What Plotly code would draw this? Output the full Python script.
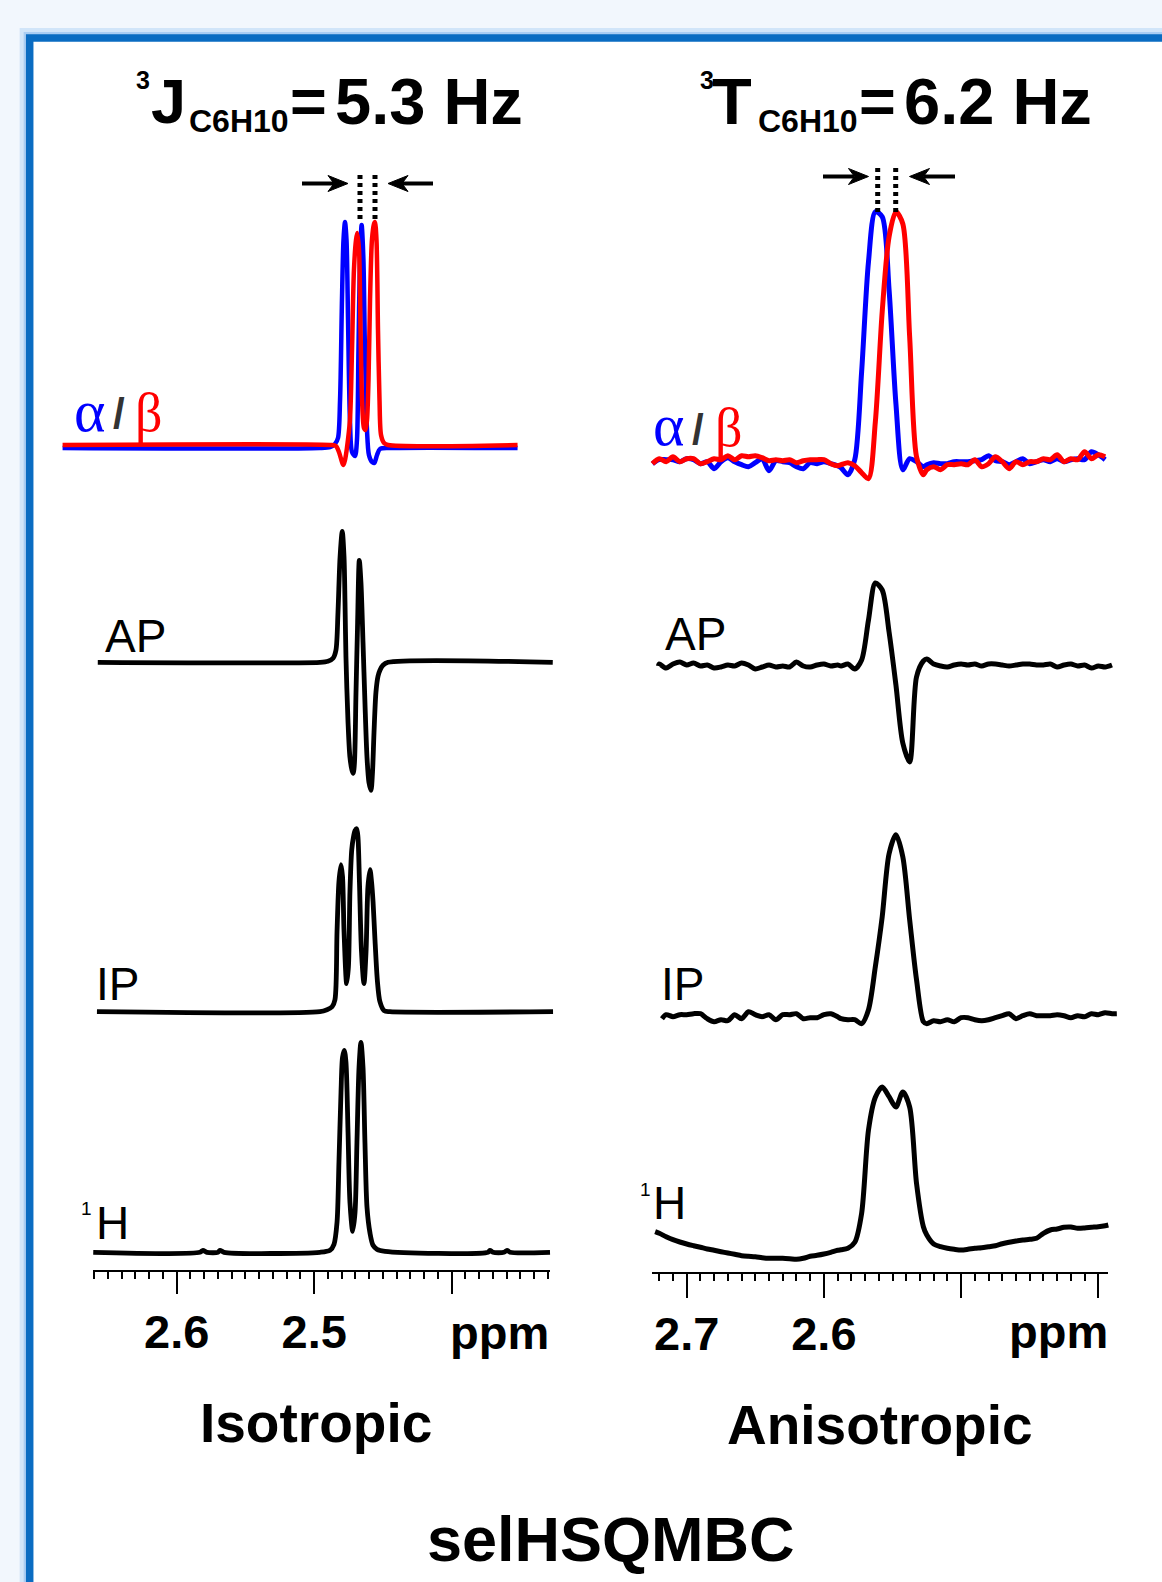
import plotly.graph_objects as go

W, H = 1162, 1582

# ===================== DATA (chemical shift / ppm, intensity / a.u.) =====================
# ---- Isotropic (left column) ----
L_AB_BLUE_PPM = [2.6830, 2.4958, 2.4885, 2.4849, 2.4827, 2.4812, 2.4798, 2.4787, 2.4776, 2.4765,
                 2.4754, 2.4740, 2.4725, 2.4703, 2.4689, 2.4678, 2.4667, 2.4655, 2.4642, 2.4631,
                 2.4616, 2.4602, 2.4580, 2.4563, 2.4543, 2.4522, 2.4449, 2.3521]
L_AB_BLUE = [0, 0, 1, 4, 10, 48, 148, 208, 226, 208,
             128, 28, -4, -8, 8, 98, 188, 223, 188, 98,
             18, -7, -14, -15, -7, -1, 0, 0]

L_AB_RED_PPM = [2.6830, 2.4885, 2.4842, 2.4820, 2.4798, 2.4788, 2.4776, 2.4762, 2.4740, 2.4725,
                2.4711, 2.4696, 2.4687, 2.4674, 2.4663, 2.4652, 2.4638, 2.4627, 2.4616, 2.4605,
                2.4594, 2.4580, 2.4565, 2.4558, 2.4547, 2.4536, 2.4525, 2.4514, 2.4492, 2.4463,
                2.3521]
L_AB_RED = [3, 3, 2, -4, -14, -17, -12, 0, 28, 98,
            178, 208, 215, 198, 118, 48, 20, 18, 28, 68,
            148, 208, 224, 226, 208, 118, 48, 13, 5, 3,
            3]

L_AP_PPM = [2.6574, 2.4958, 2.4900, 2.4863, 2.4842, 2.4827, 2.4812, 2.4796, 2.4783, 2.4776,
            2.4769, 2.4754, 2.4740, 2.4725, 2.4716, 2.4707, 2.4696, 2.4685, 2.4672, 2.4660,
            2.4645, 2.4631, 2.4616, 2.4602, 2.4587, 2.4576, 2.4565, 2.4551, 2.4536, 2.4522,
            2.4500, 2.4463, 2.3265]
L_AP = [0, 0, 1, 4, 12, 50, 105, 131, 105, 60,
        5, -60, -95, -108, -111, -100, -30, 35, 102, 80,
        20, -40, -95, -120, -128, -110, -70, -30, -14, -8,
        -3, 0, 0]

L_IP_PPM = [2.6580, 2.4958, 2.4907, 2.4870, 2.4849, 2.4834, 2.4820, 2.4805, 2.4794, 2.4783,
            2.4764, 2.4751, 2.4740, 2.4727, 2.4714, 2.4703, 2.4691, 2.4682, 2.4671, 2.4656,
            2.4638, 2.4623, 2.4609, 2.4594, 2.4583, 2.4572, 2.4558, 2.4540, 2.4522, 2.4492,
            2.4449, 2.3263]
L_IP = [0, 0, 2, 5, 12, 80, 130, 147, 135, 80,
        28, 45, 120, 162, 175, 181, 183, 175, 130, 60,
        28, 60, 125, 142, 130, 110, 72, 30, 10, 1,
        0, 0]

L_1H_PPM = [2.6607, 2.5831, 2.5809, 2.5780, 2.5700, 2.5685, 2.5656,
            2.4958, 2.4885, 2.4856, 2.4834, 2.4820, 2.4805, 2.4794, 2.4781, 2.4769, 2.4754, 2.4740, 2.4720,
            2.4703, 2.4689, 2.4674, 2.4660, 2.4645, 2.4631, 2.4616, 2.4594, 2.4572, 2.4543, 2.4485,
            2.3736, 2.3722, 2.3700, 2.3620, 2.3598, 2.3576, 2.3285]
L_1H = [0, 0, 2, 0, 0, 2, 0,
        0, 2, 8, 30, 90, 160, 195, 202, 190, 120, 50, 21,
        40, 110, 185, 210, 185, 110, 45, 19, 7, 3, 1,
        0, 2, 0, 0, 2, 0, 0]

# ---- Anisotropic (right column) ----
R_PPM = [2.725, 2.720, 2.715, 2.710, 2.705, 2.700, 2.695, 2.690, 2.685, 2.680,
         2.675, 2.670, 2.665, 2.660, 2.655, 2.650, 2.645, 2.640, 2.635, 2.630,
         2.625, 2.620, 2.615, 2.610, 2.605, 2.600, 2.595, 2.590,
         2.5875, 2.5825, 2.5775, 2.5725, 2.5675, 2.5625, 2.5575, 2.5525, 2.5475, 2.5425, 2.5375, 2.5325, 2.5275,
         2.525, 2.520, 2.515, 2.510, 2.505, 2.500, 2.495, 2.490, 2.485, 2.480,
         2.475, 2.470, 2.465, 2.460, 2.455, 2.450, 2.445, 2.440, 2.435, 2.430,
         2.425, 2.420, 2.415, 2.410, 2.405, 2.400, 2.395]

R_AB_BLUE = [-2, 2, 2, 2, 0, 3, 2, -2, 0, -7,
             0, 4, 0, -3, -5, -1, 3, -9, 1, 0,
             -1, -5, -7, -1, -2, 0, -2, -4,
             -6, -13, 2, 90, 200, 250, 245, 172, 58, -8, 3, 0, -5,
             -3, -1, -2, -2, 0, 0, 0, 1, 2, 6,
             1, 0, -3, 0, 3, -2, 0, 2, 0, 3,
             0, 2, 3, 2, 10, 7, 2]
R_AB_RED = [-2, 3, 0, 5, 0, 3, 3, -2, 0, 3,
            2, 6, 2, 6, 5, 6, 4, 1, 2, 1,
            2, -1, 1, 2, 2, 2, -2, -4,
            -3, -1, -4, -11, -17, 40, 150, 225, 250, 238, 125, 5, -13,
            -8, -5, -8, -3, -3, -2, -3, 2, -5, -2,
            5, 0, -7, 0, -3, 0, 0, 3, 2, 7,
            0, 3, 2, 10, 3, 7, 5]

R_AP_PPM = [2.7207] + R_PPM[1:] + [2.3900]
R_AP = [-1,
        1, -3, 1, 3, 0, 2, -1, 0, -3,
        -2, 0, -1, 2, 0, -4, -2, 0, -2, -1,
        -2, 3, -1, -2, 0, 1, -1, 0,
        -1, 1, -4, 5, 45, 82, 75, 33, -20, -78, -97, -12, 4,
        6, 1, -1, -2, 0, 1, 0, 1, -1, 1,
        1, 0, -1, 0, 1, 1, 0, 0, 1, -2,
        0, 1, -1, 0, -3, -1, -2,
        0]

R_IP_PPM = [2.7180] + R_PPM[2:] + [2.3900, 2.3865]
R_IP = [-2,
        2, 0, 2, 2, 3, 3, -2, -5,
        -3, -4, 2, -2, 5, 2, 0, 2, -3, 2,
        2, 3, -2, -1, -1, 2, 3, 0,
        -2, -3, -3, -7, 7, 50, 100, 163, 182, 160, 97, 37, -5,
        -7, -4, -5, -3, -5, -1, -1, -3, -4, -3,
        -1, 1, 3, -2, 1, 3, 1, 1, 1, 2,
        1, -1, 1, 0, 3, 2, 4,
        3, 3]

R_1H_PPM = [2.7230] + R_PPM[1:] + [2.3927]
R_1H = [28.3,
        26.7, 23.3, 20.3, 18, 16, 14.3, 12.7, 11, 9.7,
        8.3, 7, 5.7, 4.3, 3.7, 3.3, 2.3, 1.7, 1.7, 1.7,
        1.3, 0.7, 1.7, 3.7, 4.7, 6, 7.7, 9.7,
        10.3, 11.7, 17.7, 46.7, 130, 162.7, 173, 163.3, 153, 168, 153, 76.7, 33.3,
        25, 16, 13.3, 11.7, 10.7, 10, 10.7, 11.7, 12.3, 13.3,
        14.3, 16.3, 17.7, 19, 20, 20.7, 21.7, 26.7, 30, 31,
        32.7, 33, 31.7, 32, 32.7, 33.3, 34.3,
        35]

LEFT_TICKS = [2.6, 2.5, 2.4]
LEFT_TICKTEXT = ["2.6", "2.5", ""]
RIGHT_TICKS = [2.7, 2.6, 2.5, 2.4]
RIGHT_TICKTEXT = ["2.7", "2.6", "", ""]

# ===================== LAYOUT HELPERS =====================
SANS = "Liberation Sans, Arial, Helvetica, sans-serif"
SERIF = "Liberation Serif, Times New Roman, serif"
BLUE, RED, BLACK = "#0000FF", "#FF0000", "#000000"


def fx(px):
    return px / W


def fy(py):
    return 1 - py / H


def ppm_left(px):
    return 2.6 + (176.7 - px) / 1375.0


def ppm_right(px):
    return 2.7 + (686.7 - px) / 1372.0


fig = go.Figure()

# y-axis bands (pixel top, bottom, baseline) for each stacked spectrum
ROWS = {
    "y":  dict(x="x",  top=150,  bottom=500,  base=448.0),
    "y2": dict(x="x",  top=500,  bottom=820,  base=662.3),
    "y3": dict(x="x",  top=800,  bottom=1040, base=1011.7),
    "y4": dict(x="x",  top=1020, bottom=1266, base=1252.3),
    "y5": dict(x="x2", top=150,  bottom=500,  base=461.7),
    "y6": dict(x="x2", top=540,  bottom=800,  base=665.0),
    "y7": dict(x="x2", top=800,  bottom=1040, base=1016.7),
    "y8": dict(x="x2", top=1040, bottom=1268, base=1260.0),
}

SERIES = [
    (L_AB_BLUE_PPM, L_AB_BLUE, "y", BLUE, 4.5),
    (L_AB_RED_PPM, L_AB_RED, "y", RED, 4.5),
    (L_AP_PPM, L_AP, "y2", BLACK, 4.8),
    (L_IP_PPM, L_IP, "y3", BLACK, 4.8),
    (L_1H_PPM, L_1H, "y4", BLACK, 4.8),
    (R_PPM, R_AB_BLUE, "y5", BLUE, 5),
    (R_PPM, R_AB_RED, "y5", RED, 5),
    (R_AP_PPM, R_AP, "y6", BLACK, 5),
    (R_IP_PPM, R_IP, "y7", BLACK, 5),
    (R_1H_PPM, R_1H, "y8", BLACK, 5),
]

for xs, ys, ya, col, lw in SERIES:
    fig.add_trace(go.Scatter(
        x=xs, y=ys, xaxis=ROWS[ya]["x"], yaxis=ya, mode="lines",
        line=dict(color=col, width=lw, shape="spline", smoothing=0.8),
        hoverinfo="skip", showlegend=False))

# invisible helpers so that the two ppm scale axes get drawn
fig.add_trace(go.Scatter(x=[], y=[], xaxis="x3", yaxis="y9", showlegend=False, hoverinfo="skip"))
fig.add_trace(go.Scatter(x=[], y=[], xaxis="x4", yaxis="y10", showlegend=False, hoverinfo="skip"))

layout = dict(
    width=W, height=H, autosize=False,
    margin=dict(l=0, r=0, t=0, b=0),
    paper_bgcolor="#F2F7FD", plot_bgcolor="rgba(0,0,0,0)",
    showlegend=False,
)

layout["xaxis"] = dict(domain=[fx(55), fx(560)], range=[ppm_left(55), ppm_left(560)],
                       visible=False, anchor="y", fixedrange=True)
layout["xaxis2"] = dict(domain=[fx(640), fx(1125)], range=[ppm_right(640), ppm_right(1125)],
                        visible=False, anchor="y5", fixedrange=True)

for name, r in ROWS.items():
    key = "yaxis" if name == "y" else "yaxis" + name[1:]
    layout[key] = dict(domain=[fy(r["bottom"]), fy(r["top"])],
                       range=[-(r["bottom"] - r["base"]), r["base"] - r["top"]],
                       visible=False, anchor=r["x"], fixedrange=True)

scale_common = dict(
    showline=True, linecolor="black", linewidth=2, showgrid=False, zeroline=False,
    ticks="outside", tickcolor="black", tickwidth=2, tickmode="array",
    tickfont=dict(family=SANS, size=47, color="black", weight=700),
    fixedrange=True,
    minor=dict(tickmode="linear", tick0=2.0, dtick=0.01, ticks="outside",
               ticklen=7, tickwidth=2, tickcolor="black", showgrid=False),
)
layout["xaxis3"] = dict(domain=[fx(93.3), fx(550)], range=[ppm_left(93.3), ppm_left(550)],
                        anchor="y9", tickvals=LEFT_TICKS, ticktext=LEFT_TICKTEXT, ticklen=22,
                        ticklabelstandoff=-2, **scale_common)
layout["xaxis4"] = dict(domain=[fx(651.7), fx(1108.3)], range=[ppm_right(651.7), ppm_right(1108.3)],
                        anchor="y10", tickvals=RIGHT_TICKS, ticktext=RIGHT_TICKTEXT, ticklen=24,
                        ticklabelstandoff=-5, **scale_common)
layout["yaxis9"] = dict(domain=[fy(1270), fy(1260)], visible=False, anchor="x3", fixedrange=True)
layout["yaxis10"] = dict(domain=[fy(1272.3), fy(1262)], visible=False, anchor="x4", fixedrange=True)

# ===================== ANNOTATIONS =====================
ann = []


def text(t, x, y, size, color=BLACK, bold=False, family=SANS, xanchor="center", yanchor="middle"):
    ann.append(dict(text=t, x=fx(x), y=fy(y), xref="paper", yref="paper", showarrow=False,
                    xanchor=xanchor, yanchor=yanchor, borderpad=0,
                    font=dict(family=family, size=size, color=color, weight=700 if bold else 400)))


# titles
text("3", 143, 80, 25, bold=True)
text("J", 150, 101, 63, bold=True, xanchor="left")
text("C6H10", 188, 121, 32, bold=True, xanchor="left")
text("=", 289, 101, 63, bold=True, xanchor="left")
text("5.3 Hz", 334, 101, 65, bold=True, xanchor="left")

text("3", 707, 80, 25, bold=True)
text("T", 711, 101, 65, bold=True, xanchor="left")
text("C6H10", 757, 121, 32, bold=True, xanchor="left")
text("=", 858, 101, 63, bold=True, xanchor="left")
text("6.2 Hz", 903, 101, 65, bold=True, xanchor="left")

# alpha / beta labels
text("α", 89, 411, 60, color=BLUE, family=SERIF)
text("/", 119, 414, 42, color="#333333", bold=True)
text("β", 148, 413, 54, color=RED, family=SERIF)
text("α", 668, 425, 60, color=BLUE, family=SERIF)
text("/", 698, 429, 42, color="#333333", bold=True)
text("β", 728.5, 428, 54, color=RED, family=SERIF)

# trace labels
text("AP", 135, 636, 46)
text("IP", 117.5, 984, 46)
text("1", 86.5, 1208, 19)
text("H", 112, 1222.5, 46)
text("AP", 695, 634, 46)
text("IP", 682.5, 984, 46)
text("1", 645, 1189, 19)
text("H", 669, 1203, 46)

# axis unit labels
text("ppm", 499, 1332, 47, bold=True)
text("ppm", 1058, 1331, 47, bold=True)

# panel captions
text("Isotropic", 316, 1423, 55, bold=True)
text("Anisotropic", 880, 1425, 55, bold=True)
text("selHSQMBC", 611, 1539, 63, bold=True)

layout["annotations"] = ann

# ===================== SHAPES =====================
shapes = []
# frame with soft glow
shapes.append(dict(type="rect", xref="paper", yref="paper", x0=fx(29.7), y0=fy(38), x1=1.05, y1=-0.05,
                   line=dict(color="rgba(150,195,240,0.35)", width=20), fillcolor="rgba(0,0,0,0)", layer="below"))
shapes.append(dict(type="rect", xref="paper", yref="paper", x0=fx(29.7), y0=fy(38), x1=1.05, y1=-0.05,
                   line=dict(color="rgba(120,175,235,0.45)", width=12), fillcolor="rgba(0,0,0,0)", layer="below"))
shapes.append(dict(type="rect", xref="paper", yref="paper", x0=fx(29.7), y0=fy(38), x1=1.05, y1=-0.05,
                   line=dict(color="#0A6CC2", width=7.5), fillcolor="white", layer="below"))


def arrow(tail, tip, y):
    d = 1 if tip > tail else -1
    L, h, notch = 20, 8, 6
    shapes.append(dict(type="line", xref="paper", yref="paper",
                       x0=fx(tail), x1=fx(tip - d * (L - notch)), y0=fy(y), y1=fy(y),
                       line=dict(color="black", width=4)))
    path = "M {},{} L {},{} L {},{} L {},{} Z".format(
        fx(tip), fy(y), fx(tip - d * L), fy(y - h), fx(tip - d * (L - notch)), fy(y),
        fx(tip - d * L), fy(y + h))
    shapes.append(dict(type="path", xref="paper", yref="paper", path=path,
                       fillcolor="black", line=dict(color="black", width=1)))


def dotted(x, y0, y1):
    shapes.append(dict(type="line", xref="paper", yref="paper", x0=fx(x), x1=fx(x),
                       y0=fy(y0), y1=fy(y1), line=dict(color="black", width=5, dash="4px,4px")))


arrow(302, 348, 183.5)
arrow(433, 388, 183.5)
dotted(360, 175, 221)
dotted(375, 175, 221)

arrow(823, 868.5, 176.5)
arrow(955, 909.5, 176.5)
dotted(877.7, 168, 215)
dotted(895.7, 168, 215)

layout["shapes"] = shapes
fig.update_layout(**layout)

fig.write_html("out.html", config={"displayModeBar": False},
               post_script="document.body.style.margin='0';document.body.style.overflow='hidden';")
